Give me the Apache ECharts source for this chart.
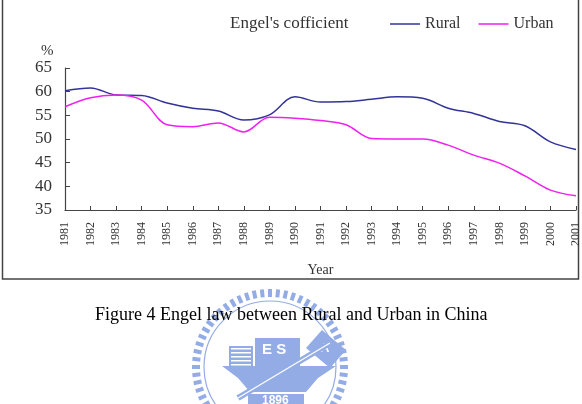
<!DOCTYPE html>
<html>
<head>
<meta charset="utf-8">
<script src="https://cdn.jsdelivr.net/npm/echarts@6/dist/echarts.min.js"></script>
<style>
html, body { margin: 0; padding: 0; background: #fff; }
#chart { width: 582px; height: 404px; }
</style>
</head>
<body>
<div id="chart"></div>
<script>
var years = ["1981", "1982", "1983", "1984", "1985", "1986", "1987", "1988", "1989", "1990", "1991",
    "1992", "1993", "1994", "1995", "1996", "1997", "1998", "1999", "2000", "2001"];
var rural = [60.2, 60.8, 59.3, 59.2, 57.6, 56.5, 55.9, 54.0, 55.1, 58.9, 57.8,
    57.9, 58.4, 58.9, 58.6, 56.5, 55.4, 53.7, 52.8, 49.4, 47.8];
var urban = [56.8, 58.7, 59.3, 58.2, 53.0, 52.6, 53.4, 51.5, 54.6, 54.4, 53.9,
    53.0, 50.1, 50.0, 50.0, 48.7, 46.6, 44.9, 42.2, 39.2, 38.0];
var yTicks = [35, 40, 45, 50, 55, 60, 65];

var serif = "'Liberation Serif', 'DejaVu Serif', serif";
var logoBlue = "#93ace6";

// faint seal behind the caption
function buildLogo() {
    var cx = 270, cy = 367, items = [];
    for (var i = 0; i < 60; i++) {
        var a = i / 60 * Math.PI * 2;
        items.push({
            type: "line",
            shape: {
                x1: cx + Math.cos(a) * 70, y1: cy + Math.sin(a) * 70,
                x2: cx + Math.cos(a) * 78, y2: cy + Math.sin(a) * 78
            },
            style: { stroke: logoBlue, lineWidth: 4 }
        });
    }
    items.push({ type: "circle", shape: { cx: cx, cy: cy, r: 66 }, style: { fill: null, stroke: logoBlue, lineWidth: 1.2 } });
    items.push({ type: "rect", shape: { x: 229, y: 346, width: 24, height: 20 }, style: { fill: logoBlue } });
    for (var j = 0; j < 5; j++) {
        items.push({ type: "rect", shape: { x: 231, y: 348 + j * 4, width: 20, height: 1.5 }, style: { fill: "#fff" } });
    }
    items.push({ type: "rect", shape: { x: 255, y: 338, width: 45, height: 30 }, style: { fill: logoBlue } });
    items.push({ type: "text", style: { x: 262, y: 342, text: "E S", fill: "#fff", font: "bold 15px sans-serif" } });
    items.push({
        type: "polygon",
        shape: { points: [[322, 330], [346, 350], [330, 368], [306, 348]] },
        style: { fill: logoBlue }
    });
    items.push({ type: "text", style: { x: 320, y: 342, text: "A", fill: "#fff", font: "bold 13px sans-serif" } });
    items.push({
        type: "polygon",
        shape: { points: [[222, 366], [336, 366], [318, 378], [306, 392], [250, 392], [238, 378]] },
        style: { fill: logoBlue }
    });
    items.push({ type: "line", shape: { x1: 238, y1: 398, x2: 330, y2: 343 }, style: { stroke: logoBlue, lineWidth: 6 } });
    items.push({ type: "line", shape: { x1: 238, y1: 398, x2: 330, y2: 343 }, style: { stroke: "#fff", lineWidth: 1.2 } });
    items.push({ type: "rect", shape: { x: 248, y: 394, width: 56, height: 12 }, style: { fill: logoBlue } });
    items.push({ type: "text", style: { x: 262, y: 395, text: "1896", fill: "#fff", font: "bold 12px sans-serif" } });
    return { type: "group", z: -10, silent: true, children: items };
}

var option = {
    animation: false,
    backgroundColor: "#fff",
    title: {
        text: "Engel's cofficient",
        left: 230,
        top: 15,
        padding: 0,
        textStyle: { fontFamily: serif, fontSize: 17, fontWeight: "normal", color: "#333" }
    },
    legend: {
        left: 390,
        top: 16,
        padding: 0,
        icon: "rect",
        itemWidth: 30,
        itemHeight: 1.5,
        itemGap: 18,
        textStyle: { fontFamily: serif, fontSize: 16, color: "#333" },
        data: ["Rural", "Urban"]
    },
    grid: { left: 65, right: 4, top: 68, bottom: 194, containLabel: false },
    xAxis: {
        type: "category",
        boundaryGap: false,
        data: years,
        name: "Year",
        nameLocation: "middle",
        nameGap: 53,
        nameTextStyle: { fontFamily: serif, fontSize: 14, color: "#333" },
        axisLine: { lineStyle: { color: "#444", width: 1.2 } },
        axisTick: { inside: true, length: 4, lineStyle: { color: "#444" } },
        axisLabel: { rotate: 90, margin: 12, interval: 0, fontFamily: serif, fontSize: 12, color: "#333" },
        splitLine: { show: false }
    },
    yAxis: {
        type: "value",
        min: yTicks[0],
        max: yTicks[yTicks.length - 1],
        interval: 5,
        axisLine: { show: true, lineStyle: { color: "#444", width: 1.2 } },
        axisTick: { show: true, inside: true, length: 5, lineStyle: { color: "#444" } },
        axisLabel: { margin: 13, fontFamily: serif, fontSize: 17, color: "#333" },
        splitLine: { show: false }
    },
    series: [{
        name: "Rural",
        type: "line",
        data: rural,
        smooth: 0.35,
        showSymbol: false,
        itemStyle: { color: "#333399" },
        lineStyle: { color: "#333399", width: 1.5 }
    },
    {
        name: "Urban",
        type: "line",
        data: urban,
        smooth: 0.35,
        showSymbol: false,
        itemStyle: { color: "#f020f0" },
        lineStyle: { color: "#f020f0", width: 1.5 }
    }],
    graphic: [
        {
            type: "rect",
            silent: true,
            shape: { x: 2.5, y: -3, width: 576, height: 282 },
            style: { fill: null, stroke: "#444", lineWidth: 1.5 }
        },
        {
            type: "text",
            left: 41,
            top: 44,
            style: { text: "%", fill: "#333", font: "15px " + serif }
        },
        buildLogo(),
        {
            type: "text",
            left: 95,
            top: 306,
            z: 10,
            style: { text: "Figure 4 Engel law between Rural and Urban in China", fill: "#000", font: "18px " + serif }
        }
    ]
};

var myChart = echarts.init(document.getElementById("chart"));
myChart.setOption(option);
</script>
</body>
</html>
